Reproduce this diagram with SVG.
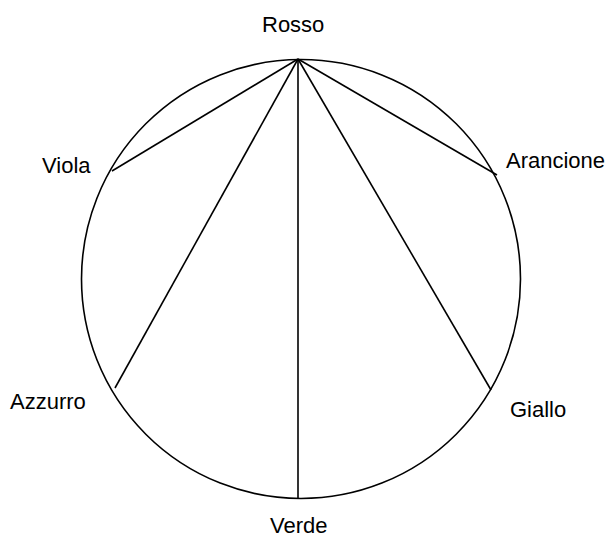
<svg xmlns="http://www.w3.org/2000/svg" width="610" height="540" viewBox="0 0 610 540">
<style>
.lbl{font-family:"Liberation Sans",Arial,sans-serif;font-size:22px;fill:#000}
.ln{stroke:#000;stroke-width:1.6;fill:none}
</style>
<rect width="610" height="540" fill="#fff"/>
<g id="wheel"><circle class="ln" cx="301" cy="279" r="219.5"/></g>
<g id="connectors">
<line class="ln" x1="298" y1="59" x2="112" y2="171"/>
<line class="ln" x1="298" y1="59" x2="497" y2="175"/>
<line class="ln" x1="298" y1="59" x2="115" y2="388"/>
<line class="ln" x1="298" y1="59" x2="491" y2="390"/>
<line class="ln" x1="298" y1="59" x2="298" y2="498"/>
</g>
<g id="rosso"><text class="lbl" x="262" y="32">Rosso</text></g>
<g id="viola"><text class="lbl" x="42" y="173">Viola</text></g>
<g id="arancione"><text class="lbl" x="506" y="168">Arancione</text></g>
<g id="azzurro"><text class="lbl" x="10" y="409">Azzurro</text></g>
<g id="giallo"><text class="lbl" x="510" y="417">Giallo</text></g>
<g id="verde"><text class="lbl" x="270" y="533">Verde</text></g>
</svg>
